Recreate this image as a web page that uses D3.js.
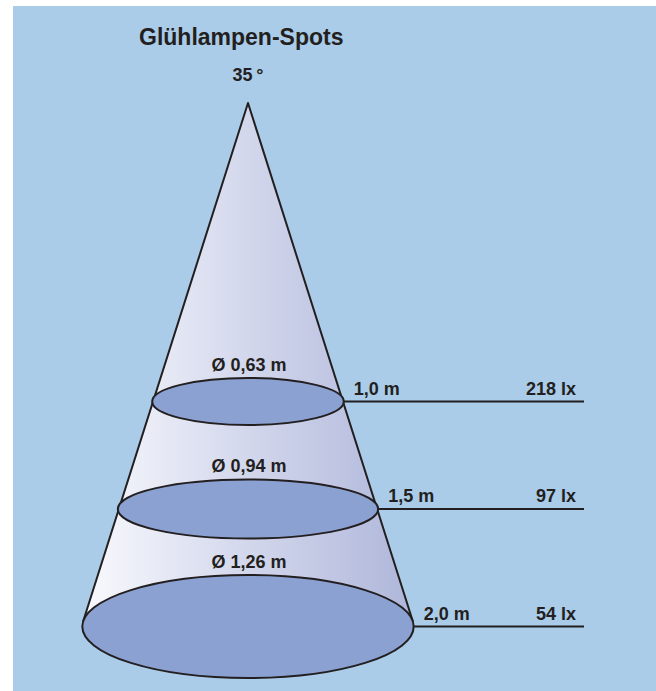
<!DOCTYPE html>
<html>
<head>
<meta charset="utf-8">
<script src="https://cdn.jsdelivr.net/npm/d3@7"></script>
<style>
  body { margin: 0; background: #fff; }
  svg text { font-family: "Liberation Sans", Arial, sans-serif; font-weight: bold; fill: #231f20; }
</style>
</head>
<body>
<svg id="chart" width="656" height="691"></svg>
<script>
// values
const title = "Glühlampen-Spots";
const beamAngle = 35;               // degrees
const distances = [1.0, 1.5, 2.0];  // m
const diameters = [0.63, 0.94, 1.26]; // m
const luxValues = [218, 97, 54];    // lx

const svg = d3.select("#chart");
const width = +svg.attr("width");
const height = +svg.attr("height");

const de = d3.formatLocale({ decimal: ",", thousands: ".", grouping: [3], currency: ["", " €"] });
const fmtDist = de.format(".1f");
const fmtDiam = de.format(".2f");

const cx = 248;
const ink = "#231f20";
const labelSize = 18;

// vertical position of each ring (0 = lamp), drawing is not to scale
const yScale = d3.scaleLinear().domain([0, ...distances]).range([103, 401.5, 509, 626.5]);
// half width of a ring from its diameter
const rxScale = d3.scaleLinear().domain(d3.extent(diameters)).range([95.8, 165.7]);
// flattening of the ring (perspective)
const ryScale = d3.scaleLinear().domain(distances).range([23.5, 29.5, 51.5]);

const rings = distances.map((d, i) => ({
    dist: d,
    diam: diameters[i],
    lux: luxValues[i],
    cy: yScale(d),
    rx: rxScale(diameters[i]),
    ry: ryScale(d)
}));

// panel
svg.append("rect")
    .attr("x", 13).attr("y", 6)
    .attr("width", width - 13).attr("height", height - 6)
    .attr("fill", "#aacce9");

const defs = svg.append("defs");
const last = rings[rings.length - 1];
const grad = defs.append("linearGradient")
    .attr("id", "coneGrad")
    .attr("gradientUnits", "userSpaceOnUse")
    .attr("x1", cx - last.rx).attr("x2", cx + last.rx)
    .attr("y1", 0).attr("y2", 0);
grad.append("stop").attr("offset", 0).attr("stop-color", "#f9fafd");
grad.append("stop").attr("offset", 0.5).attr("stop-color", "#d3d7ec");
grad.append("stop").attr("offset", 1).attr("stop-color", "#aeb6da");

// cone silhouette, tangent to the largest ring
const apexY = yScale(0);
const h = last.cy - apexY;
const ty = -(last.ry * last.ry) / h;
const tx = last.rx * Math.sqrt(1 - (ty / last.ry) ** 2);
const left = [cx - tx, last.cy + ty];
const right = [cx + tx, last.cy + ty];

svg.append("path")
    .attr("d", `M${left}L${cx},${apexY}L${right}A${last.rx},${last.ry} 0 1 1 ${left}Z`)
    .attr("fill", "url(#coneGrad)");

svg.append("path")
    .attr("d", d3.line()([left, [cx, apexY], right]))
    .attr("fill", "none")
    .attr("stroke", ink)
    .attr("stroke-width", 2)
    .attr("stroke-linejoin", "round");

// rings
svg.selectAll(".ring")
    .data(rings)
    .join("ellipse")
    .attr("class", "ring")
    .attr("cx", cx)
    .attr("cy", d => d.cy)
    .attr("rx", d => d.rx)
    .attr("ry", d => d.ry)
    .attr("fill", "#8aa1d1")
    .attr("stroke", ink)
    .attr("stroke-width", 2);

// leader lines
const lineEnd = 584;
svg.selectAll(".leader")
    .data(rings)
    .join("line")
    .attr("class", "leader")
    .attr("x1", d => cx + d.rx)
    .attr("x2", lineEnd)
    .attr("y1", d => d.cy)
    .attr("y2", d => d.cy)
    .attr("stroke", ink)
    .attr("stroke-width", 2);

svg.selectAll(".diam")
    .data(rings)
    .join("text")
    .attr("class", "diam")
    .attr("x", cx + 1)
    .attr("y", d => d.cy - d.ry - 7.5)
    .attr("text-anchor", "middle")
    .attr("font-size", labelSize)
    .text(d => `Ø ${fmtDiam(d.diam)} m`);

svg.selectAll(".dist")
    .data(rings)
    .join("text")
    .attr("class", "dist")
    .attr("x", d => cx + d.rx + 10)
    .attr("y", d => d.cy - 7)
    .attr("font-size", labelSize)
    .text(d => `${fmtDist(d.dist)} m`);

svg.selectAll(".lux")
    .data(rings)
    .join("text")
    .attr("class", "lux")
    .attr("x", lineEnd - 8)
    .attr("y", d => d.cy - 7)
    .attr("text-anchor", "end")
    .attr("font-size", labelSize)
    .text(d => `${d.lux} lx`);

svg.append("text")
    .attr("x", 139)
    .attr("y", 45)
    .attr("font-size", 23)
    .text(title);

svg.append("text")
    .attr("x", cx)
    .attr("y", 81)
    .attr("text-anchor", "middle")
    .attr("font-size", labelSize)
    .text(`${beamAngle}\u2009°`);
</script>
</body>
</html>
